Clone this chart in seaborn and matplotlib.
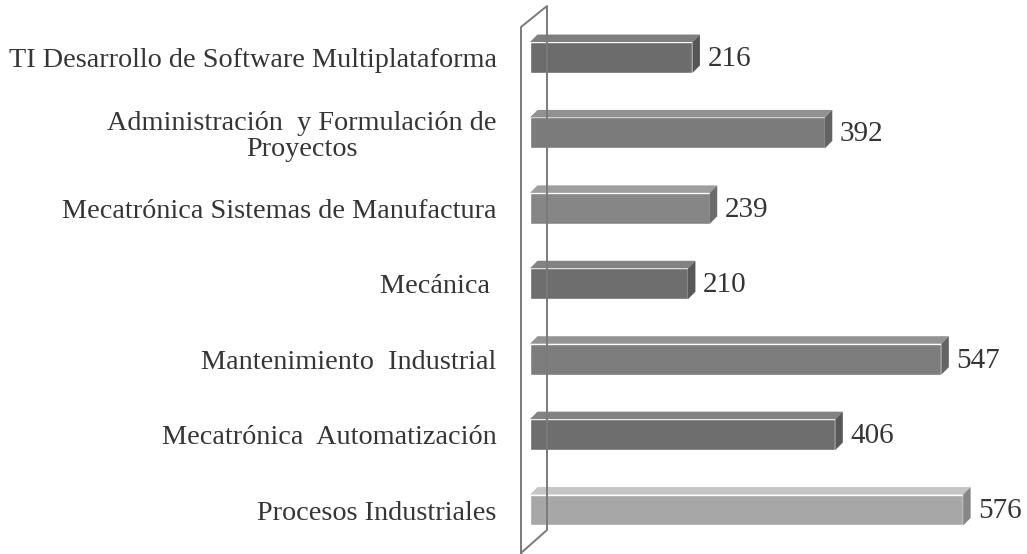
import matplotlib
matplotlib.use("Agg")
import matplotlib.pyplot as plt
from matplotlib.patches import Polygon
from matplotlib.lines import Line2D
from matplotlib.colors import to_rgb
import seaborn as sns
import pandas as pd

# Graduates per program
programas = [
    "TI Desarrollo de Software Multiplataforma",
    "Administración  y Formulación de\nProyectos",
    "Mecatrónica Sistemas de Manufactura",
    "Mecánica ",
    "Mantenimiento  Industrial",
    "Mecatrónica  Automatización",
    "Procesos Industriales",
]
valores = [216, 392, 239, 210, 547, 406, 576]
colores = ["#6c6c6c", "#7b7b7b", "#868686", "#6e6e6e", "#7d7d7d", "#6e6e6e", "#a7a7a7"]

df = pd.DataFrame({"programa": programas, "valor": valores})

sns.set_theme(style="white")
plt.rcParams["font.family"] = ["Liberation Serif", "DejaVu Serif"]

W, H = 1027, 554
fig = plt.figure(figsize=(W / 100, H / 100), dpi=100)
ax = fig.add_axes([530 / W, 1 - 550 / H, 490 / W, 545 / H])

sns.barplot(data=df, y="programa", x="valor", hue="programa", palette=colores,
            legend=False, orient="h", width=0.41, ax=ax, saturation=1)

ax.set_xlim(0, 490 / 0.752)
ax.set_ylim(6.53, -0.696)
ax.set_xlabel("")
ax.set_ylabel("")
ax.set_xticks([])
for s in ax.spines.values():
    s.set_visible(False)

ax.tick_params(axis="y", length=0, pad=24, labelsize=20.3, labelcolor="#353535")
for lab in ax.get_yticklabels():
    lab.set_multialignment("center")
    lab.set_linespacing(1.05)

# 3D depth of bars, given in pixels then converted to data units
depth_px = 7.5
p0 = ax.transData.inverted().transform((0, 0))
p1 = ax.transData.inverted().transform((depth_px, depth_px))
ddx = p1[0] - p0[0]
ddy = p1[1] - p0[1]  # negative since y axis is inverted


def shade(c, f):
    r, g, b = to_rgb(c)
    return (min(1, r * f), min(1, g * f), min(1, b * f))


for p in list(ax.patches):
    w = p.get_width()
    if w <= 0:
        continue
    x0, y0 = p.get_x(), p.get_y()
    h = p.get_height()
    c = p.get_facecolor()
    top = Polygon([(x0, y0), (x0 + w, y0), (x0 + w + ddx, y0 + ddy), (x0 + ddx, y0 + ddy)],
                  closed=True, facecolor=shade(c, 1.18), edgecolor="none")
    side = Polygon([(x0 + w, y0), (x0 + w + ddx, y0 + ddy), (x0 + w + ddx, y0 + h + ddy), (x0 + w, y0 + h)],
                   closed=True, facecolor=shade(c, 0.8), edgecolor="none")
    ax.add_patch(top)
    ax.add_patch(side)
    ax.annotate(f"{w:.0f}", (x0 + w, y0 + h / 2), xytext=(11, -1),
                textcoords="offset points", ha="left", va="center",
                fontsize=21, color="#353535")

# Back wall of the 3D chart
wall_x = [521, 521, 547, 547, 521]
wall_y = [553, 27, 6, 530, 553]
fig.add_artist(Line2D([x / W for x in wall_x], [1 - y / H for y in wall_y],
                      transform=fig.transFigure, color="#7a7a7a", lw=1.4))

fig.savefig("out.png", dpi=100, facecolor="white")
